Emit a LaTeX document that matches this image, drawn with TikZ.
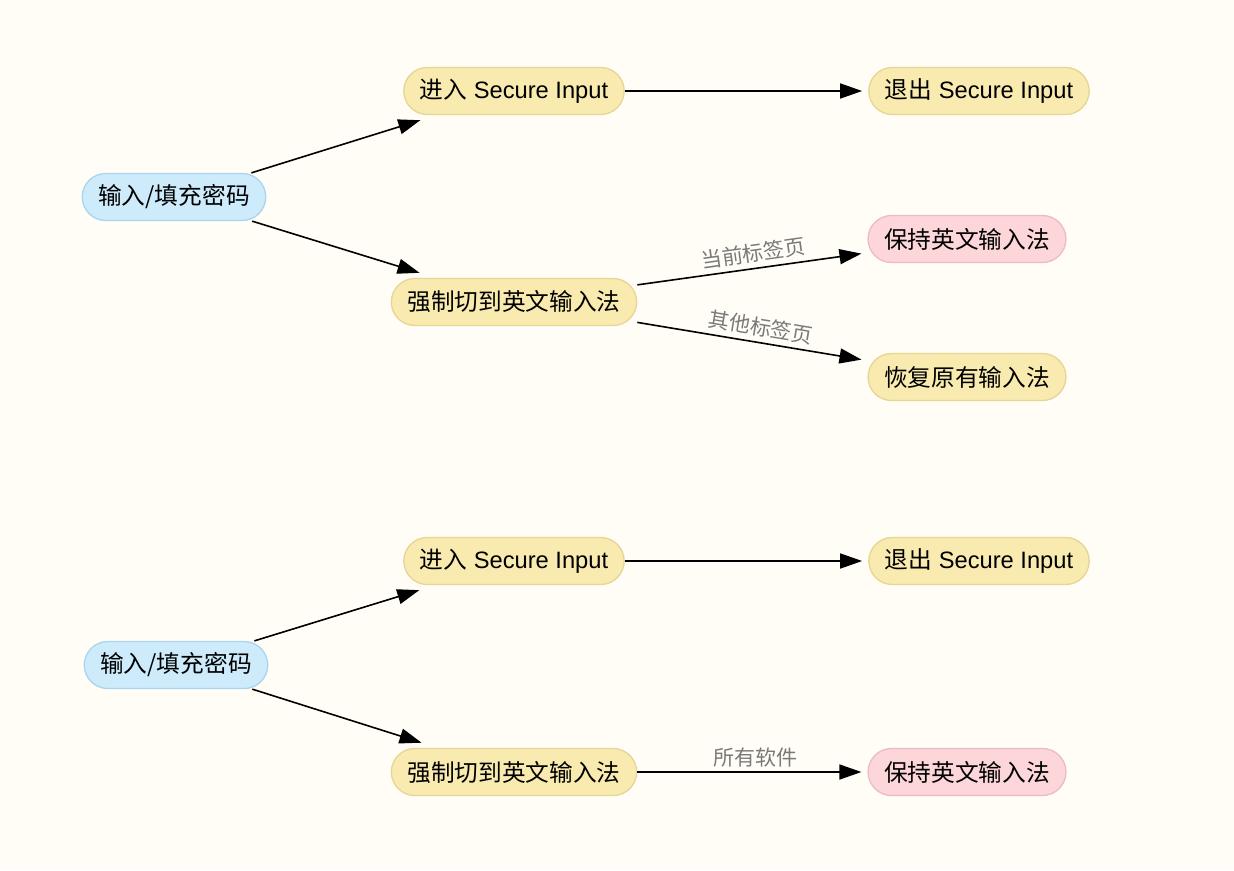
\documentclass[tikz,border=0pt]{standalone}
\usepackage{fontspec}
\setmainfont{Liberation Sans}
\newfontfamily\cjk{Noto Sans CJK SC}
\usetikzlibrary{arrows.meta}
\definecolor{bg}{HTML}{FFFDF6}
\definecolor{yfill}{HTML}{F9EBB0}
\definecolor{ydraw}{HTML}{E6D594}
\definecolor{bfill}{HTML}{CDEBFB}
\definecolor{bdraw}{HTML}{A9D5EF}
\definecolor{pfill}{HTML}{FDD6D9}
\definecolor{pdraw}{HTML}{EBBDC0}
\definecolor{lab}{HTML}{7A7A7A}
\tikzset{
  box/.style={rounded corners=23.5pt, minimum height=47pt, inner xsep=16pt, inner ysep=0pt, line width=1.3pt,
    font=\fontsize{23.7}{28}\selectfont, text=black},
  ybox/.style={box, fill=yfill, draw=ydraw},
  bbox/.style={box, fill=bfill, draw=bdraw},
  pbox/.style={box, fill=pfill, draw=pdraw},
  conn/.style={line width=1.6pt, -{Triangle[length=22pt,width=15pt]}, shorten >=6pt},
  diag/.style={conn, shorten >=17pt},
  elab/.style={font=\cjk\fontsize{21}{24}\selectfont, text=lab, inner sep=1pt},
}
\begin{document}
\begin{tikzpicture}[x=1pt,y=-1pt]
\useasboundingbox[fill=bg] (0,0) rectangle (1234,870);
% top diagram
\node[bbox] (a1) at (174,197) {\cjk 输入/填充密码};
\node[ybox] (b1) at (514,91) {{\cjk 进入} Secure Input};
\node[ybox] (c1) at (979,91) {{\cjk 退出} Secure Input};
\node[ybox] (d1) at (514,302) {\cjk 强制切到英文输入法};
\node[pbox] (e1) at (967,239) {\cjk 保持英文输入法};
\node[ybox] (f1) at (967,377) {\cjk 恢复原有输入法};
\draw[diag] (a1) -- (b1);
\draw[diag] (a1) -- (d1);
\draw[conn] (b1) -- (c1);
\draw[conn] (d1) -- node[elab, midway, above=4pt, sloped, xshift=3pt] {当前标签页} (e1);
\draw[conn] (d1) -- node[elab, midway, above=4pt, sloped, xshift=6pt] {其他标签页} (f1);
% bottom diagram
\node[bbox] (a2) at (176,665) {\cjk 输入/填充密码};
\node[ybox] (b2) at (514,561) {{\cjk 进入} Secure Input};
\node[ybox] (c2) at (979,561) {{\cjk 退出} Secure Input};
\node[ybox] (d2) at (514,772) {\cjk 强制切到英文输入法};
\node[pbox] (e2) at (967,772) {\cjk 保持英文输入法};
\draw[diag] (a2) -- (b2);
\draw[diag] (a2) -- (d2);
\draw[conn] (b2) -- (c2);
\draw[conn] (d2) -- node[elab, midway, above=3pt, xshift=3pt] {所有软件} (e2);
\end{tikzpicture}
\end{document}
